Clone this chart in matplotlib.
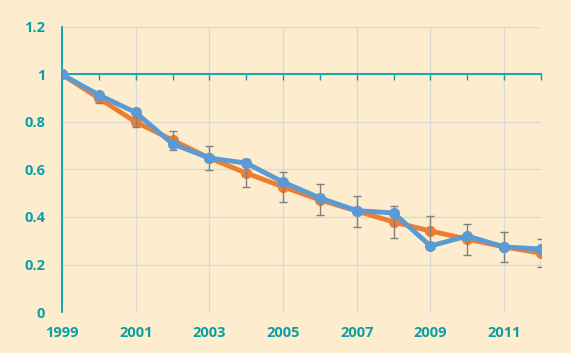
"""Decline of two indexed series, 1999-2012, with error bars.
"""
import matplotlib
matplotlib.use("Agg")
import matplotlib.pyplot as plt
from matplotlib.ticker import FuncFormatter, MultipleLocator

# data
years = [1999, 2000, 2001, 2002, 2003, 2004, 2005, 2006, 2007, 2008, 2009, 2010, 2011, 2012]
orange_vals = [1.0, 0.90, 0.80, 0.724, 0.648, 0.585, 0.527, 0.472, 0.425, 0.379, 0.341, 0.307, 0.274, 0.248]
orange_err = [0.0, 0.02, 0.02, 0.04, 0.05, 0.058, 0.062, 0.065, 0.065, 0.067, 0.064, 0.065, 0.063, 0.058]
blue_vals = [1.0, 0.914, 0.84, 0.708, 0.648, 0.627, 0.547, 0.48, 0.427, 0.417, 0.278, 0.32, 0.274, 0.265]
x_labels = [1999, 2001, 2003, 2005, 2007, 2009, 2011]

bg = '#FDEDCE'
teal = '#0AA0A6'
orange = '#ED7D31'
blue = '#5B9BD5'
grid = '#D9D9D9'

fig = plt.figure(figsize=(5.71, 3.53), dpi=100, facecolor=bg)
ax = fig.add_axes([62 / 571, 1 - 312 / 353, (541 - 62) / 571, (312 - 27) / 353])
ax.set_facecolor(bg)

# orange series with error bars, blue on top
ax.plot(years, orange_vals, color=orange, lw=3.5, marker='o', ms=7, zorder=3)
ax.errorbar(years, orange_vals, yerr=orange_err, fmt='none', ecolor='#7F7F7F',
            elinewidth=1, capsize=3, capthick=1, zorder=4)
ax.plot(years, blue_vals, color=blue, lw=3.5, marker='o', ms=7, zorder=5)

ax.set_xlim(1999, 2012)
ax.set_ylim(0, 1.2)
ax.set_xticks(x_labels)
ax.xaxis.set_minor_locator(MultipleLocator(1))
ax.yaxis.set_major_locator(MultipleLocator(0.2))
ax.yaxis.set_major_formatter(FuncFormatter(lambda v, p: f'{round(v, 1):g}'))

# axis line crosses at y = 1, labels stay at the bottom
ax.spines['top'].set_position(('data', 1))
ax.spines['top'].set_color(teal)
ax.spines['top'].set_linewidth(1.3)
ax.spines['left'].set_color(teal)
ax.spines['left'].set_linewidth(1.3)
ax.spines['right'].set_visible(False)
ax.spines['bottom'].set_visible(False)

ax.tick_params(axis='x', which='both', top=True, bottom=False, direction='in',
               length=4, width=1, color=teal, labelbottom=True, labeltop=False,
               pad=10, labelcolor=teal)
ax.tick_params(axis='y', length=0, pad=12, labelcolor=teal)
for lbl in ax.get_xticklabels() + ax.get_yticklabels():
    lbl.set_fontfamily('Open Sans')
    lbl.set_fontweight('bold')
    lbl.set_fontsize(10.5)

ax.grid(True, which='major', color=grid, lw=1)
ax.set_axisbelow(True)

fig.savefig('out.png', dpi=100, facecolor=bg)
